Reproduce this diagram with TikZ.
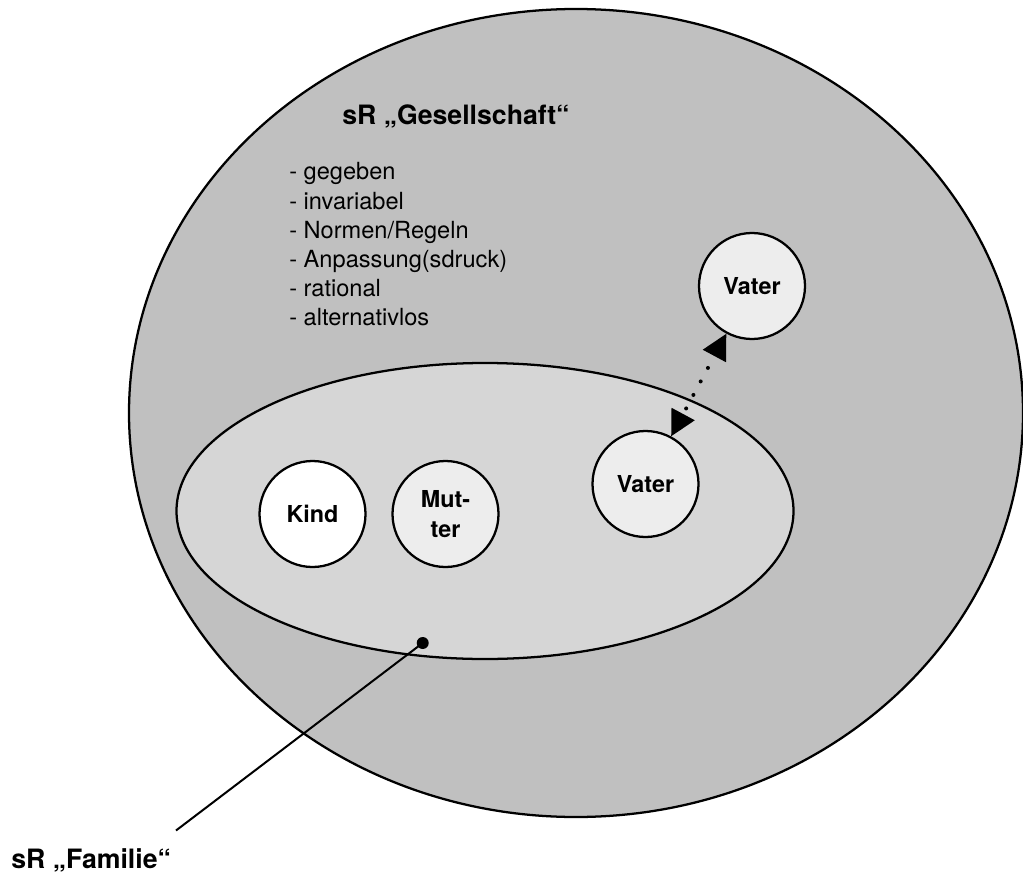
\documentclass[tikz,border=0pt]{standalone}
\usepackage{fontspec}
\setmainfont{TeX Gyre Heros}
\usetikzlibrary{shapes.geometric,arrows.meta}
\definecolor{outergray}{RGB}{192,192,192}
\definecolor{innergray}{RGB}{214,214,214}
\definecolor{circgray}{RGB}{237,237,237}
\begin{document}
\begin{tikzpicture}[x=0.75pt,y=-0.75pt,
  region/.style={ellipse,draw=black,line width=1.7pt,inner sep=0pt},
  person/.style={circle,draw=black,line width=1.7pt,inner sep=0pt,minimum size=79.5pt,
    font=\fontsize{17.5}{22}\selectfont\bfseries,align=center},
  label/.style={inner sep=0pt,font=\fontsize{20}{24}\selectfont\bfseries},
  dotline/.style={line width=3pt,line cap=round,dash pattern=on 0pt off 11.5pt,dash phase=6pt,
    {Triangle[length=19pt,width=19pt]}-{Triangle[length=19pt,width=19pt]}},
  pin/.style={circle,fill=black,inner sep=0pt,minimum size=9pt},
  leader/.style={line width=1.5pt}]
\useasboundingbox (0,0) rectangle (1023,877);
% regions
\node[region,fill=outergray,minimum width=670.5pt,minimum height=606pt] (gesell) at (576,413) {};
\node[region,fill=innergray,minimum width=462.75pt,minimum height=222pt] (familie) at (485,511) {};
% labels
\node[label,anchor=base west] (gtitle) at (342,125) {sR „Gesellschaft“};
\node[inner sep=0pt,anchor=base west] (glist) at (289,180) {\parbox[t]{8cm}{\raggedright\fontsize{17.7}{21.9}\selectfont
- gegeben\\
- invariabel\\
- Normen/Regeln\\
- Anpassung(sdruck)\\
- rational\\
- alternativlos}};
% persons
\node[person,fill=white] (kind) at (312.5,514) {Kind};
\node[person,fill=circgray] (mutter) at (445.5,514) {Mut-\\ter};
\node[person,fill=circgray] (vaterA) at (645.5,484) {Vater};
\node[person,fill=circgray] (vaterB) at (752,286) {Vater};
\draw[dotline] (vaterA) -- (vaterB);
% family pointer
\node[pin] (fdot) at (422.7,643) {};
\coordinate (fend) at (176,830.5);
\draw[leader] (fdot.center) -- (fend);
\node[label,anchor=base west] (flabel) at (11,868) {sR „Familie“};
\end{tikzpicture}
\end{document}
